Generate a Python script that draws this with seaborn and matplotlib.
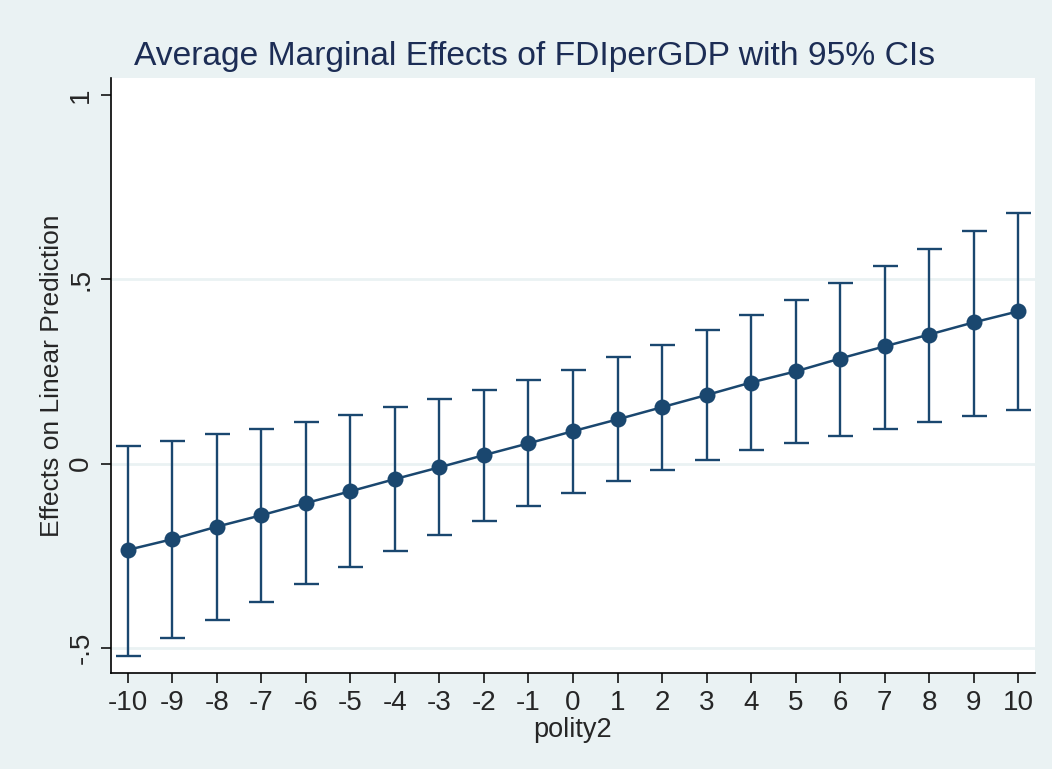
import matplotlib
matplotlib.use("Agg")
import matplotlib.pyplot as plt
import seaborn as sns
import pandas as pd
import numpy as np

polity2 = [-10, -9, -8, -7, -6, -5, -4, -3, -2, -1, 0, 1, 2, 3, 4, 5, 6, 7, 8, 9, 10]
margin = [-0.234, -0.205, -0.171, -0.140, -0.107, -0.075, -0.042, -0.010, 0.023, 0.055,
          0.088, 0.120, 0.153, 0.186, 0.220, 0.250, 0.285, 0.318, 0.350, 0.383, 0.413]
ci_upper = [0.048, 0.0625, 0.079, 0.095, 0.113, 0.132, 0.154, 0.175, 0.199, 0.226,
            0.255, 0.289, 0.323, 0.362, 0.402, 0.445, 0.490, 0.535, 0.582, 0.630, 0.679]
ci_lower = [-0.523, -0.473, -0.424, -0.375, -0.327, -0.281, -0.237, -0.195, -0.155, -0.116,
            -0.081, -0.048, -0.018, 0.009, 0.036, 0.056, 0.076, 0.095, 0.114, 0.130, 0.146]
yticks = [-0.5, 0, 0.5, 1]
ytick_labels = ["-.5", "0", ".5", "1"]
title = "Average Marginal Effects of FDIperGDP with 95% CIs"
xlabel = "polity2"
ylabel = "Effects on Linear Prediction"

sns.set_theme(style="white")
plt.rcParams['font.family'] = ['Liberation Sans', 'DejaVu Sans']

bg = "#EAF2F3"
navy = "#1A476F"

df = pd.DataFrame({"polity2": polity2, "margin": margin,
                   "lo": ci_lower, "hi": ci_upper})

fig = plt.figure(figsize=(10.52, 7.69), dpi=100, facecolor=bg)
ax = fig.add_axes([111/1052, 1 - 673/769, (1035-111)/1052, (673-78)/769])
ax.set_facecolor("white")

for g in [-0.5, 0, 0.5]:
    ax.axhline(g, color=bg, lw=2.0, zorder=0)

err_lo = df["margin"] - df["lo"]
err_hi = df["hi"] - df["margin"]
ax.errorbar(df["polity2"], df["margin"], yerr=[err_lo, err_hi], fmt="none",
            ecolor=navy, elinewidth=1.7, capsize=9, capthick=1.7, zorder=2)
sns.lineplot(data=df, x="polity2", y="margin", ax=ax, color=navy, lw=1.8,
             marker="o", markersize=11.5, markeredgewidth=0, zorder=3)

ax.set_xlim(-10.38, 10.38)
ax.set_ylim(-0.568, 1.046)
ax.set_xticks(polity2)
ax.set_xticklabels([str(v) for v in polity2], fontsize=20)
ax.set_yticks(yticks)
ax.set_yticklabels(ytick_labels, fontsize=20, rotation=90, va="center")
ax.tick_params(axis="both", direction="out", length=7, width=1.1, color="black",
               bottom=True, left=True, pad=5)

for s in ["top", "right"]:
    ax.spines[s].set_visible(False)
for s in ["left", "bottom"]:
    ax.spines[s].set_color("black")
    ax.spines[s].set_linewidth(1.2)

ax.set_xlabel(xlabel, fontsize=19.5, labelpad=1)
ax.set_ylabel(ylabel, fontsize=19, labelpad=3)
fig.text(534.5 / 1052, 1 - 57/769, title, ha="center", va="center",
         fontsize=24.2, color="#1C2D55")

fig.savefig("out.png", dpi=100, facecolor=bg)
